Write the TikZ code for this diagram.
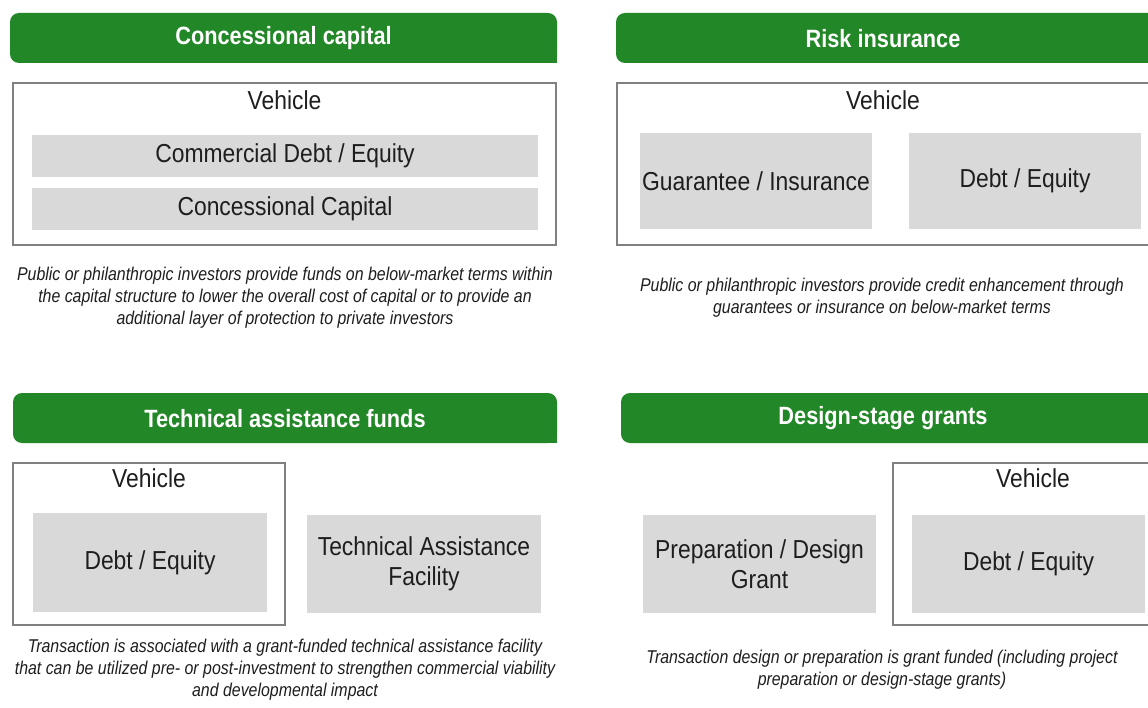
\documentclass[tikz,border=0pt]{standalone}
\usepackage{fontspec}
\setmainfont{Liberation Sans}[FakeStretch=0.88]
\newfontfamily\hdrfont{Liberation Sans}[FakeStretch=0.87]
\newfontfamily\descfont{Liberation Sans}[FakeStretch=0.86]
\definecolor{hgreen}{RGB}{34,135,38}
\definecolor{boxgray}{RGB}{217,217,217}
\definecolor{bordergray}{RGB}{128,128,128}
\definecolor{txt}{RGB}{30,30,30}
\tikzset{
  hdrbox/.style={fill=hgreen, rounded corners=9pt, inner sep=0},
  hdrtext/.style={text=white, font=\hdrfont\fontsize{25}{29}\selectfont\bfseries, inner sep=0},
  veh/.style={draw=bordergray, line width=1.5pt, fill=white, inner sep=0},
  gbox/.style={fill=boxgray, text=txt, font=\fontsize{26}{30}\selectfont, align=center, inner sep=0},
  vlab/.style={text=txt, font=\fontsize{26}{30}\selectfont, inner sep=0},
  desc/.style={text=txt, font=\descfont\fontsize{18.5}{21.8}\selectfont\itshape, align=center, inner sep=0},
}
\begin{document}
\begin{tikzpicture}[x=1pt,y=-1pt]
\useasboundingbox (0,0) rectangle (1148,708);
\clip (0,0) rectangle (1148,708);
\fill[white] (0,0) rectangle (1148,708);

% ---------- headers ----------
\node[hdrbox, minimum width=547, minimum height=50] (h1) at (283.5,38) {};
\fill[hgreen] (h1.south east) rectangle ++(-15,-15);
\node[hdrtext] (h1t) at (283.5,38.5) {Concessional capital};

\node[hdrbox, minimum width=560, minimum height=50] (h2) at (896,38) {};
\node[hdrtext] (h2t) at (883,38.5) {Risk insurance};

\node[hdrbox, minimum width=544, minimum height=50] (h3) at (285,418) {};
\fill[hgreen] (h3.south east) rectangle ++(-15,-15);
\node[hdrtext] (h3t) at (285,418.5) {Technical assistance funds};

\node[hdrbox, minimum width=560, minimum height=50] (h4) at (901,418) {};
\node[hdrtext] (h4t) at (883,418.5) {Design-stage grants};

% ---------- concessional capital ----------
\node[veh, minimum width=543, minimum height=162] (v1) at (284.5,164) {};
\node[vlab] (v1l) at (284.5,100) {Vehicle};
\node[gbox, minimum width=506, minimum height=42] (b1a) at (285,156) {Commercial Debt / Equity};
\node[gbox, minimum width=506, minimum height=42] (b1b) at (285,209) {Concessional Capital};
\node[desc] (d1) at (285,297.5) {Public or philanthropic investors provide funds on below-market terms within\\the capital structure to lower the overall cost of capital or to provide an\\additional layer of protection to private investors};

% ---------- risk insurance ----------
\node[veh, minimum width=548, minimum height=162] (v2) at (891,164) {};
\node[vlab] (v2l) at (883,100) {Vehicle};
\node[gbox, minimum width=232, minimum height=96] (b2a) at (756,181) {Guarantee / Insurance};
\node[gbox, minimum width=232, minimum height=96] (b2b) at (1025,181) {Debt / Equity};
\node[desc] (d2) at (882,297.5) {Public or philanthropic investors provide credit enhancement through\\guarantees or insurance on below-market terms};

% ---------- technical assistance ----------
\node[veh, minimum width=272, minimum height=162] (v3) at (149,544) {};
\node[vlab] (v3l) at (149,478) {Vehicle};
\node[gbox, minimum width=234, minimum height=99] (b3a) at (150,562.5) {Debt / Equity};
\node[gbox, minimum width=234, minimum height=98] (b3b) at (424,564) {Technical Assistance\\Facility};
\node[desc] (d3) at (285,669.5) {Transaction is associated with a grant-funded technical assistance facility\\that can be utilized pre- or post-investment to strengthen commercial viability\\and developmental impact};

% ---------- design-stage grants ----------
\node[gbox, minimum width=233, minimum height=98] (b4a) at (759.5,564) {Preparation / Design\\Grant};
\node[veh, minimum width=272, minimum height=162] (v4) at (1029,544) {};
\node[vlab] (v4l) at (1033,478) {Vehicle};
\node[gbox, minimum width=233, minimum height=98] (b4b) at (1028.5,564) {Debt / Equity};
\node[desc] (d4) at (882,669.5) {Transaction design or preparation is grant funded (including project\\preparation or design-stage grants)};
\end{tikzpicture}
\end{document}
